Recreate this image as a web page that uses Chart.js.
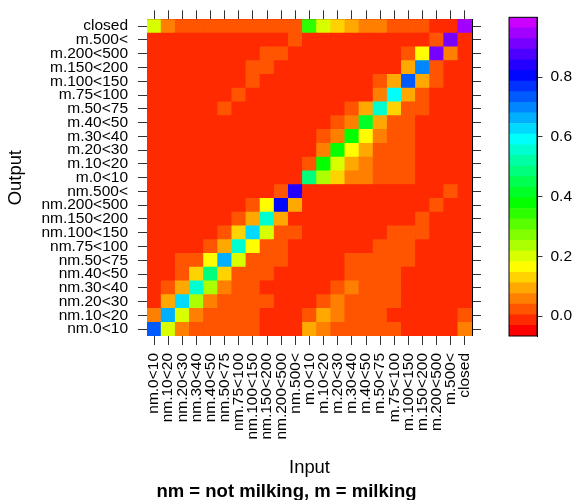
<!DOCTYPE html>
<html>
<head>
<meta charset="utf-8">
<script src="https://cdn.jsdelivr.net/npm/chart.js@4.4.1/dist/chart.umd.min.js"></script>
<style>
body{margin:0;background:#fff;}
#wrap{position:relative;width:573px;height:500px;}
canvas{position:absolute;top:0;}
</style>
</head>
<body>
<div id="wrap">
<canvas id="heat" width="573" height="500" style="left:0"></canvas>
<canvas id="key" width="73" height="500" style="left:500px"></canvas>
</div>
<script>
// categories (same order for Input columns and Output rows, bottom to top)
var states = ["nm.0<10","nm.10<20","nm.20<30","nm.30<40","nm.40<50","nm.50<75","nm.75<100",
  "nm.100<150","nm.150<200","nm.200<500","nm.500<",
  "m.0<10","m.10<20","m.20<30","m.30<40","m.40<50","m.50<75","m.75<100",
  "m.100<150","m.150<200","m.200<500","m.500<","closed"];

// transition share, one row per Output state, one value per Input state
var rows = [
 [.73,.19,.06,.02,.02,.02,.02,.02,0,0,0, .09,.06,.02,.02,.02,.02,.02,0,0,0,0,.06],   // nm.0<10
 [.06,.66,.19,.06,.02,.02,.02,.02,0,0,0, .02,.09,.06,.02,.02,.02,0,0,0,0,0,.02],     // nm.10<20
 [0,.09,.625,.235,.06,.02,.02,.02,.02,0,0, 0,.02,.06,.02,.02,.02,.02,0,0,0,0,0],      // nm.20<30
 [0,.02,.09,.555,.235,.06,.02,.02,0,0,0, 0,0,.02,.06,.02,.02,.02,0,0,0,0,0],          // nm.30<40
 [0,0,.02,.13,.485,.13,.02,.02,.02,0,0, 0,0,0,.02,.02,.02,.02,0,0,0,0,0],             // nm.40<50
 [0,0,.02,.02,.165,.66,.2,.02,.02,.02,0, 0,0,0,.02,.02,.02,.02,.02,0,0,0,0],          // nm.50<75
 [0,0,0,0,.02,.09,.555,.165,.02,.02,0, 0,0,0,0,0,.02,.02,.02,0,0,0,0],                // nm.75<100
 [0,0,0,0,0,.02,.13,.625,.19,.02,.02, 0,0,0,0,0,0,.02,.02,.02,0,0,0],                 // nm.100<150
 [0,0,0,0,0,0,.02,.09,.555,.09,0, 0,0,0,0,0,0,0,0,.02,0,0,0],                         // nm.150<200
 [0,0,0,0,0,0,0,.02,.165,.8,.09, 0,0,0,0,0,0,0,0,0,.02,0,0],                          // nm.200<500
 [0,0,0,0,0,0,0,0,0,.02,.84, 0,0,0,0,0,0,0,0,0,0,.02,0],                              // nm.500<
 [0,0,0,0,0,0,0,0,0,0,0, .5,.235,.13,.06,.06,.02,.02,.02,0,0,0,0],                    // m.0<10
 [0,0,0,0,0,0,0,0,0,0,0, .02,.38,.2,.09,.06,.02,.02,.02,0,0,0,0],                     // m.10<20
 [0,0,0,0,0,0,0,0,0,0,0, 0,.06,.38,.165,.09,.02,.02,.02,0,0,0,0],                     // m.20<30
 [0,0,0,0,0,0,0,0,0,0,0, 0,.02,.06,.38,.165,.06,.02,.02,0,0,0,0],                     // m.30<40
 [0,0,0,0,0,0,0,0,0,0,0, 0,0,.02,.06,.415,.09,.02,.02,0,0,0,0],                       // m.40<50
 [0,0,0,0,0,.02,0,0,0,0,0, 0,0,0,.02,.09,.555,.13,.02,.02,0,0,0],                     // m.50<75
 [0,0,0,0,0,0,.02,0,0,0,0, 0,0,0,0,0,.06,.59,.09,.02,0,0,0],                          // m.75<100
 [0,0,0,0,0,0,0,.02,0,0,0, 0,0,0,0,0,.02,.09,.73,.09,.02,0,0],                        // m.100<150
 [0,0,0,0,0,0,0,.02,.02,0,0, 0,0,0,0,0,0,0,.09,.695,.02,0,0],                         // m.150<200
 [0,0,0,0,0,0,0,0,.02,.02,0, 0,0,0,0,0,0,0,.02,.165,.91,.06,0],                       // m.200<500
 [0,0,0,0,0,0,0,0,0,0,.02, 0,0,0,0,0,0,0,0,0,.02,.91,0],                              // m.500<
 [.2,.06,.02,.02,.02,.02,.02,.02,.02,.02,.02, .345,.2,.13,.09,.06,.06,.02,.02,.02,0,0,.95] // closed
];

// colour key
var keyMin = -1/15, keyMax = 1, keyBins = 30;
var keyTicks = [0, 0.2, 0.4, 0.6, 0.8];

var binW = (keyMax - keyMin) / keyBins;
function binColor(i){ return 'hsl(' + (i / (keyBins - 1) * 288) + ',100%,50%)'; }
function valColor(v){
  var i = Math.floor((v - keyMin) / binW);
  return binColor(Math.max(0, Math.min(keyBins - 1, i)));
}

var tickFont = {family:'Liberation Sans', size:15.5};
var titleFont = {family:'Liberation Sans', size:18.4};
var tickGrid = {drawOnChartArea:false, drawTicks:true, tickLength:9, tickColor:'#333', offset:false};
var edge = {display:true, color:'#000', width:1};
function rowTicks(s){ s.ticks = states.map(function(l, i){ return {value:i}; }); }

var fillBack = {
  id:'fillBack',
  beforeDatasetsDraw: function(chart){
    var a = chart.chartArea, ctx = chart.ctx;
    ctx.save(); ctx.fillStyle = binColor(1);
    ctx.fillRect(a.left, a.top, a.right - a.left, a.bottom - a.top);
    ctx.restore();
  }
};

new Chart(document.getElementById('heat'), {
  type:'bar',
  data:{
    labels: states,
    datasets: rows.map(function(r, ri){
      return {
        data: r.map(function(){ return [ri - 0.5, ri + 0.5]; }),
        backgroundColor: r.map(valColor),
        grouped:false, barPercentage:1, categoryPercentage:1, borderWidth:0
      };
    })
  },
  options:{
    responsive:false, animation:false,
    layout:{padding:0},
    plugins:{
      legend:{display:false}, tooltip:{enabled:false},
      title:{display:true, position:'bottom', text:'nm = not milking, m = milking', color:'#000',
        font:{family:'Liberation Sans', size:18.5, weight:'bold', lineHeight:0.92}, padding:{top:0,bottom:0}}
    },
    scales:{
      x:{type:'category', labels:states, offset:true, grid:tickGrid, border:edge,
        ticks:{autoSkip:false, minRotation:90, maxRotation:90, padding:8, color:'#000', font:tickFont},
        title:{display:true, text:'Input', color:'#000', font:titleFont, padding:{top:0,bottom:4}},
        afterFit:function(s){ s.height = 147; }},
      x2:{type:'category', position:'top', labels:states, offset:true, grid:tickGrid, border:edge,
        ticks:{display:false}, afterFit:function(s){ s.height = 9.3; }},
      y:{type:'linear', min:-0.5, max:22.5, grid:tickGrid, border:edge, afterBuildTicks:rowTicks,
        ticks:{autoSkip:false, padding:10, color:'#000', font:tickFont, callback:function(v){ return states[v]; }},
        title:{display:true, text:'Output', color:'#000', font:titleFont, padding:{top:4.5,bottom:0}},
        afterFit:function(s){ s.width = 147; }},
      y2:{type:'linear', position:'right', min:-0.5, max:22.5, grid:tickGrid, border:edge,
        afterBuildTicks:rowTicks, ticks:{display:false}, afterFit:function(s){ s.width = 101; }}
    }
  },
  plugins:[fillBack]
});

var keySets = [];
for (var i = 0; i < keyBins; i++) {
  keySets.push({data:[[keyMin + i * binW, keyMin + (i + 1) * binW]], backgroundColor:binColor(i),
    grouped:false, barPercentage:1, categoryPercentage:1, borderWidth:0});
}

var keyBox = {
  id:'keyBox',
  afterDraw:function(chart){
    var a = chart.chartArea, ctx = chart.ctx;
    ctx.save(); ctx.strokeStyle = '#000'; ctx.lineWidth = 1;
    ctx.strokeRect(a.left, a.top, a.right - a.left, a.bottom - a.top);
    ctx.restore();
  }
};

new Chart(document.getElementById('key'), {
  type:'bar',
  data:{labels:[''], datasets:keySets},
  options:{
    responsive:false, animation:false,
    layout:{padding:{left:9, top:9.3, bottom:164, right:0}},
    plugins:{legend:{display:false}, tooltip:{enabled:false}},
    scales:{
      x:{display:false},
      y:{position:'right', min:keyMin, max:keyMax,
        afterBuildTicks:function(s){ s.ticks = keyTicks.map(function(v){ return {value:v}; }); },
        grid:{drawOnChartArea:false, tickLength:5.5, tickColor:'#333'}, border:{display:true, color:'#000'},
        ticks:{padding:8, color:'#000', font:tickFont, callback:function(v){ return v.toFixed(1); }},
        afterFit:function(s){ s.width = 36; }}
    }
  },
  plugins:[keyBox]
});
</script>
</body>
</html>
